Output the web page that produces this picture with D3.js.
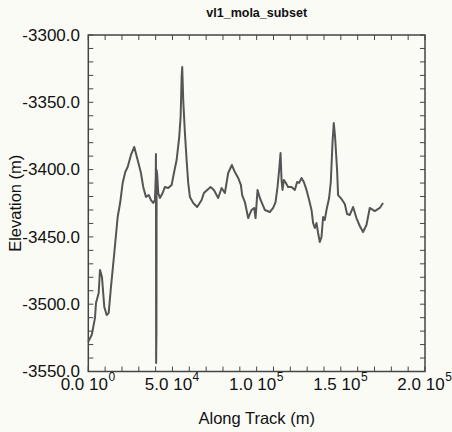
<!DOCTYPE html>
<html>
<head>
<meta charset="utf-8">
<script src="https://cdn.jsdelivr.net/npm/d3@7"></script>
<style>
  html, body { margin: 0; padding: 0; background: #fbfbf6; }
  svg { display: block; }
  text { font-family: "Liberation Sans", Arial, sans-serif; fill: #111; }
</style>
</head>
<body>
<svg id="chart" width="452" height="432"></svg>
<script>
// Along-track distance (m)
const alongTrack = [
  0, 2018, 2611, 3976, 4570, 6172, 6944, 8131, 9496, 10920,
  12107, 13472, 15431, 17449, 18992, 20416, 21960, 23384, 25342, 27301,
  29319, 31277, 32643, 34245, 35847, 37212, 38578, 39586, 40061, 40180,
  40299, 40477, 40595, 40952, 41545, 42554, 44156, 45521, 47480, 49498,
  50863, 52465, 54009, 54839, 55433, 55789, 56383, 57392, 58400, 59350,
  60359, 62318, 64692, 67303, 68668, 70627, 72644, 74603, 76205, 77155,
  79173, 81131, 83090, 85286, 87066, 89025, 90627, 91399, 93001, 94960,
  96978, 98521, 99352, 100539, 101904, 102913, 104871, 107839, 109798, 111222,
  112409, 113359, 114189, 114783, 115376, 116148, 117335, 118700, 120718, 122676,
  124042, 125229, 126653, 128018, 129620, 131164, 132588, 133538, 134546, 135555,
  136505, 137514, 138522, 139473, 140481, 141490, 143034, 144043, 145051, 145823,
  146595, 147782, 148375, 150393, 152351, 153717, 155319, 157278, 159295, 161254,
  163213, 165230, 167189, 170156, 173124, 175083
];
// Elevation (m)
const elevation = [
  -3527.8, -3522.9, -3519.2, -3510.2, -3499.1, -3491.7, -3474.6, -3479.8, -3502.1, -3508.0,
  -3506.5, -3487.2, -3462.0, -3435.2, -3424.1, -3409.9, -3401.8, -3398.1, -3389.1, -3383.2,
  -3392.9, -3402.5, -3412.9, -3420.3, -3418.9, -3422.6, -3424.8, -3422.6, -3405.5, -3388.4,
  -3543.7, -3519.2, -3400.3, -3404.0, -3417.4, -3421.1, -3417.4, -3412.9, -3413.7, -3411.4,
  -3402.5, -3392.9, -3375.8, -3360.9, -3331.2, -3323.8, -3348.3, -3372.8, -3392.9, -3409.9,
  -3420.3, -3424.8, -3427.8, -3422.6, -3417.4, -3415.1, -3412.9, -3415.1, -3418.9, -3421.1,
  -3413.7, -3417.4, -3402.5, -3396.6, -3401.8, -3406.2, -3411.4, -3418.9, -3424.1, -3436.0,
  -3430.0, -3428.5, -3436.0, -3415.1, -3421.1, -3424.1, -3430.0, -3431.5, -3428.5, -3424.1,
  -3412.9, -3400.3, -3387.7, -3407.7, -3415.1, -3407.7, -3409.9, -3412.9, -3412.9, -3415.1,
  -3409.2, -3409.9, -3406.2, -3409.2, -3415.1, -3422.6, -3430.0, -3439.7, -3443.4, -3439.7,
  -3447.1, -3453.8, -3450.1, -3435.2, -3437.4, -3430.0, -3421.1, -3409.2, -3380.2, -3365.4,
  -3375.8, -3400.3, -3418.9, -3421.8, -3425.6, -3433.0, -3433.7, -3427.8, -3436.0, -3441.9,
  -3446.4, -3441.2, -3428.5, -3430.8, -3428.5, -3424.8
];
const yTicks = [-3300, -3350, -3400, -3450, -3500, -3550];
const xTicks = [0, 50000, 100000, 150000, 200000];
const xTickMantissa = ["0.0", "5.0", "1.0", "1.5", "2.0"];
const xTickExponent = ["0", "4", "5", "5", "5"];
const titleText = "vl1_mola_subset";
const xTitle = "Along Track (m)";
const yTitle = "Elevation (m)";

const svg = d3.select("#chart");
const L = 88.3, R = 425, T = 35, B = 371.5;

const x = d3.scaleLinear().domain([0, 200000]).range([L, R]);
const y = d3.scaleLinear().domain([-3550, -3300]).range([B, T]);

// background
svg.append("rect").attr("width", 452).attr("height", 432).attr("fill", "#fbfbf6");

// minor/major ticks (inward) on all four sides
const xMinor = d3.range(0, 200001, 10000);
const yMinor = d3.range(-3550, -3299, 10);
const tickLen = 5;
const tg = svg.append("g").attr("stroke", "#444").attr("stroke-width", 1);
xMinor.forEach(v => {
  tg.append("line").attr("x1", x(v)).attr("x2", x(v)).attr("y1", B).attr("y2", B - tickLen);
  tg.append("line").attr("x1", x(v)).attr("x2", x(v)).attr("y1", T).attr("y2", T + tickLen);
});
yMinor.forEach(v => {
  tg.append("line").attr("x1", L).attr("x2", L + tickLen).attr("y1", y(v)).attr("y2", y(v));
  tg.append("line").attr("x1", R).attr("x2", R - tickLen).attr("y1", y(v)).attr("y2", y(v));
});

// frame
svg.append("rect").attr("x", L).attr("y", T).attr("width", R - L).attr("height", B - T)
  .attr("fill", "none").attr("stroke", "#444").attr("stroke-width", 1.5);

// y tick labels
svg.append("g").selectAll("text").data(yTicks).join("text")
  .attr("x", 80).attr("y", d => y(d)).attr("dy", "0.34em")
  .attr("text-anchor", "end").attr("font-size", 17)
  .text(d => d3.format(".1f")(d).replace("−", "-"));

// x tick labels: mantissa "m.m 10" then a superscript exponent as its own text
const xg = svg.append("g");
xTicks.forEach((v, i) => {
  const main = xg.append("text")
    .attr("x", x(v) - 4).attr("y", 390).attr("text-anchor", "middle")
    .attr("font-size", 17).text(xTickMantissa[i] + " 10");
  const w = main.node().getComputedTextLength();
  xg.append("text")
    .attr("x", x(v) - 4 + w / 2 + 0.5).attr("y", 381)
    .attr("text-anchor", "start").attr("font-size", 12)
    .style("fill", "#111").text(xTickExponent[i]);
});

// title
svg.append("text").attr("x", 256.7).attr("y", 17).attr("text-anchor", "middle")
  .attr("font-size", 12.5).attr("font-weight", "bold").text(titleText);

// axis titles
svg.append("text").attr("x", 256.7).attr("y", 424).attr("text-anchor", "middle")
  .attr("font-size", 16.5).text(xTitle);
svg.append("text").attr("transform", `translate(20.5,${(T + B) / 2}) rotate(-90)`)
  .attr("text-anchor", "middle").attr("font-size", 16.5).text(yTitle);

// data line
const pts = alongTrack.map((d, i) => [d, elevation[i]]);
const line = d3.line().x(d => x(d[0])).y(d => y(d[1]));
svg.append("path").datum(pts).attr("d", line)
  .attr("fill", "none").attr("stroke", "#555").attr("stroke-width", 2)
  .attr("stroke-linejoin", "round");
</script>
</body>
</html>
